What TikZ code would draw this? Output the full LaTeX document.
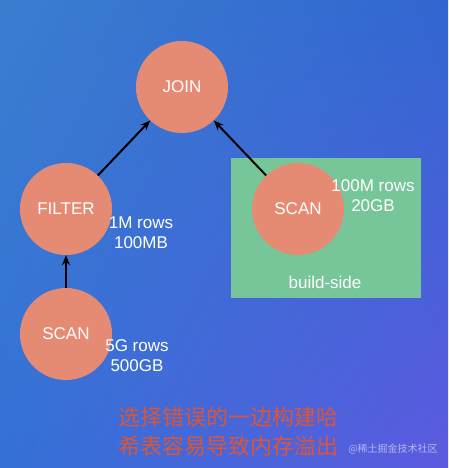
\documentclass[tikz,border=0pt]{standalone}
\usepackage{fontspec}
\setmainfont{Liberation Sans}
\newfontfamily\cjk{Noto Sans CJK SC}
\usetikzlibrary{arrows.meta,shadings}
\definecolor{salmon}{HTML}{E68B73}
\definecolor{greenbox}{HTML}{77C699}
\definecolor{cnred}{HTML}{DA5638}
\definecolor{bgtl}{HTML}{3A7ED0}
\definecolor{bgtr}{HTML}{3166D0}
\definecolor{bgbl}{HTML}{3371D6}
\definecolor{bgbr}{HTML}{5D5AE0}
\tikzset{
  opnode/.style={circle, fill=salmon, minimum size=92pt, inner sep=0pt, text=white, font=\fontsize{17}{20}\selectfont},
  stat/.style={text=white, align=center, font=\fontsize{17}{20}\selectfont, inner sep=0pt},
  flow/.style={-{Stealth[length=10pt,width=8pt]}, line width=2pt, black},
}
\begin{document}
\begin{tikzpicture}[x=1pt,y=-1pt]
\useasboundingbox (0,0) rectangle (448,468);
\shade[upper left=bgtl, upper right=bgtr, lower left=bgbl, lower right=bgbr] (0,0) rectangle (448,468);
\node[fill=greenbox, minimum width=190pt, minimum height=140pt, inner sep=0pt] (box) at (326,228) {};
\node[opnode] (join) at (182,87) {JOIN};
\node[opnode] (filter) at (66,209) {FILTER};
\node[opnode] (scanb) at (66,334) {SCAN};
\node[opnode] (scanr) at (298,209) {SCAN};
\node[stat] (s1) at (141,233) {1M rows\\100MB};
\node[stat] (s2) at (373,196) {100M rows\\20GB};
\node[stat] (s3) at (137,356) {5G rows\\500GB};
\node[stat] (bs) at (325,282) {build-side};
\draw[flow] (filter) -- (join);
\draw[flow] (scanr) -- (join);
\draw[flow] (scanb) -- (filter);
\node[text=cnred, align=center, inner sep=0pt, font=\cjk\fontsize{22}{29}\selectfont] (cap) at (228,432) {选择错误的一边构建哈\\希表容易导致内存溢出};
\node[text=white, opacity=0.55, inner sep=0pt, font=\cjk\fontsize{10}{12}\selectfont] (wm) at (393,449) {@稀土掘金技术社区};
\end{tikzpicture}
\end{document}
